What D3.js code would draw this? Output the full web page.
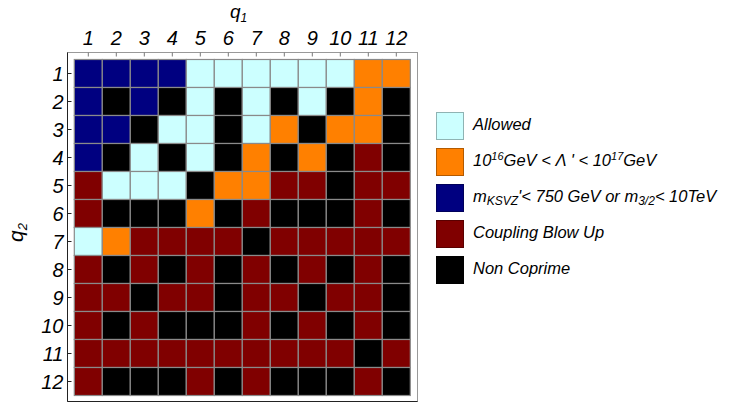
<!DOCTYPE html>
<html>
<head>
<meta charset="utf-8">
<script src="https://cdn.jsdelivr.net/npm/d3@7"></script>
<style>
  body { margin: 0; background: #fff; }
  text { font-family: "Liberation Sans", Arial, sans-serif; font-style: italic; }
</style>
</head>
<body>
<script>
// q values on both axes
const q1Values = [1, 2, 3, 4, 5, 6, 7, 8, 9, 10, 11, 12];
const q2Values = [1, 2, 3, 4, 5, 6, 7, 8, 9, 10, 11, 12];

// category keys used in the grid
const categories = ["A", "O", "B", "R", "K"];
const categoryColors = ["#ccffff", "#ff8000", "#000080", "#800000", "#000000"];
const categoryStrokes = ["#8fb3b3", "#b35a00", "#00005a", "#5a0000", "#000000"];

// one string per q2 row, one letter per q1 column
const gridRows = [
    "BBBBAAAAAAOO",
    "BKBKAKAKAKOK",
    "BBKAAKAOKOOK",
    "BKAKAKOKOKRK",
    "RAAAKOORRKRR",
    "RKKKOKRKKKRK",
    "AORRRRKRRRRR",
    "RKRKRKRKRKRK",
    "RRKRRKRRKRRK",
    "RKRKKKRKRKRK",
    "RRRRRRRRRRKR",
    "RKKKRKRKKKRK"
];

const svg = d3.select("body").append("svg")
    .attr("width", 736)
    .attr("height", 403);

const color = d3.scaleOrdinal().domain(categories).range(categoryColors);

// grid area
const gx0 = 74.3, gx1 = 410.3, gy0 = 59.5, gy1 = 395.5;
const x = d3.scaleBand().domain(q1Values).range([gx0, gx1]);
const y = d3.scaleBand().domain(q2Values).range([gy0, gy1]);

const cells = [];
gridRows.forEach((row, i) => {
    row.split("").forEach((c, j) => {
        cells.push({ q1: q1Values[j], q2: q2Values[i], cat: c });
    });
});

svg.append("g").selectAll("rect")
    .data(cells)
    .join("rect")
    .attr("x", d => x(d.q1))
    .attr("y", d => y(d.q2))
    .attr("width", x.bandwidth())
    .attr("height", y.bandwidth())
    .attr("fill", d => color(d.cat))
    .attr("stroke", "#8a8a8a")
    .attr("stroke-width", 1.2);

// frame
const fx0 = 67.5, fx1 = 417.5, fy0 = 52.5, fy1 = 401.5;
svg.append("rect")
    .attr("x", fx0).attr("y", fy0)
    .attr("width", fx1 - fx0).attr("height", fy1 - fy0)
    .attr("fill", "none")
    .attr("stroke", "#999");
svg.append("path")
    .attr("d", `M${fx0},${fy0}V${fy1}H${fx1}`)
    .attr("fill", "none")
    .attr("stroke", "#222");

// top axis
const xAxis = svg.append("g")
    .attr("transform", `translate(0,${fy0})`)
    .call(d3.axisBottom(x).tickSize(4).tickSizeOuter(0).tickPadding(0));
xAxis.select(".domain").remove();
xAxis.selectAll(".tick line").attr("stroke", "#777");
xAxis.selectAll(".tick text")
    .attr("y", -8)
    .attr("dy", 0)
    .attr("font-size", 20)
    .attr("fill", "#000");

// left axis
const yAxis = svg.append("g")
    .attr("transform", `translate(${fx0},0)`)
    .call(d3.axisRight(y).tickSize(4).tickSizeOuter(0));
yAxis.select(".domain").remove();
yAxis.selectAll(".tick line").attr("stroke", "#222");
yAxis.selectAll(".tick text")
    .attr("x", -4)
    .attr("dy", "0.36em")
    .attr("text-anchor", "end")
    .attr("font-size", 20)
    .attr("fill", "#000");

// axis titles
const q1Label = svg.append("text")
    .attr("x", 230).attr("y", 18)
    .attr("font-size", 19);
q1Label.append("tspan").text("q");
q1Label.append("tspan").attr("font-size", 12).attr("dy", 4).text("1");

const q2Label = svg.append("text")
    .attr("transform", "translate(23,242) rotate(-90)")
    .attr("font-size", 21);
q2Label.append("tspan").text("q");
q2Label.append("tspan").attr("font-size", 13).attr("dy", 4).text("2");

// legend
const legend = svg.append("g").attr("transform", "translate(436,112)");
const legendY = d3.scaleBand().domain(categories).range([0, 180]);

legend.selectAll("rect")
    .data(categories)
    .join("rect")
    .attr("x", 0.5)
    .attr("y", d => legendY(d) + 0.5)
    .attr("width", 27)
    .attr("height", 27)
    .attr("fill", d => color(d))
    .attr("stroke", (d, i) => categoryStrokes[i]);

const labels = legend.selectAll("text")
    .data(categories)
    .join("text")
    .attr("x", 37)
    .attr("y", d => legendY(d) + 18)
    .attr("font-size", 16.5);

function addParts(sel, parts) {
    parts.forEach(p => {
        const t = sel.append("tspan").text(p.t);
        if (p.sup) t.attr("font-size", 11).attr("dy", -6);
        if (p.sub) t.attr("font-size", 12).attr("dy", 3);
        if (p.back) t.attr("dy", p.back);
    });
}

addParts(labels.filter(d => d === "A"), [{ t: "Allowed" }]);
addParts(labels.filter(d => d === "O"), [
    { t: "10" }, { t: "16", sup: true }, { t: "GeV < Λ ' < 10", back: 6 },
    { t: "17", sup: true }, { t: "GeV", back: 6 }
]);
addParts(labels.filter(d => d === "B"), [
    { t: "m" }, { t: "KSVZ", sub: true }, { t: "'< 750 GeV or m", back: -3 },
    { t: "3/2", sub: true }, { t: "< 10TeV", back: -3 }
]);
addParts(labels.filter(d => d === "R"), [{ t: "Coupling Blow Up" }]);
addParts(labels.filter(d => d === "K"), [{ t: "Non Coprime" }]);
</script>
</body>
</html>
